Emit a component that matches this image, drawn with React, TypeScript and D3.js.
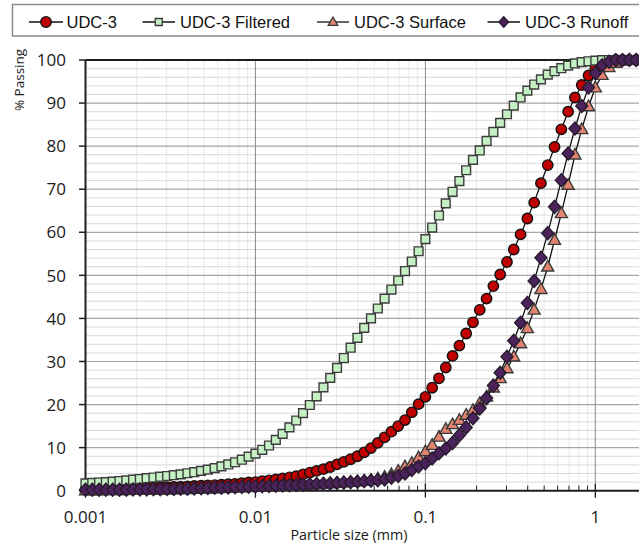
import React, { useRef, useEffect } from 'react';
import * as d3 from 'd3';

// particle size classes (mm)
const sizes = [
  0.001, 0.001096, 0.001202, 0.001318, 0.001445, 0.001585, 0.001738, 0.001905, 0.002089, 0.002291,
  0.002512, 0.002754, 0.00302, 0.003311, 0.003631, 0.003981, 0.004365, 0.004786, 0.005248, 0.005754,
  0.00631, 0.006918, 0.007586, 0.008318, 0.00912,
  0.01, 0.01096, 0.01202, 0.01318, 0.01445, 0.01585, 0.01738, 0.01905, 0.02089, 0.02291,
  0.02512, 0.02754, 0.0302, 0.03311, 0.03631, 0.03981, 0.04365, 0.04786, 0.05248, 0.05754,
  0.0631, 0.06918, 0.07586, 0.08318, 0.0912,
  0.1, 0.1096, 0.1202, 0.1318, 0.1445, 0.1585, 0.1738, 0.1905, 0.2089, 0.2291,
  0.2512, 0.2754, 0.302, 0.3311, 0.3631, 0.3981, 0.4365, 0.4786, 0.5248, 0.5754,
  0.631, 0.6918, 0.7586, 0.8318, 0.912,
  1, 1.096, 1.202, 1.318, 1.445, 1.585, 1.738, 1.905,
];

// % passing
const udc3 = [
  0.3, 0.3, 0.35, 0.4, 0.45, 0.5, 0.55, 0.6, 0.65, 0.7,
  0.75, 0.8, 0.85, 0.9, 0.95, 1.0, 1.1, 1.2, 1.25, 1.3,
  1.4, 1.5, 1.6, 1.75, 1.9, 2.0, 2.2, 2.4, 2.6, 2.85,
  3.1, 3.4, 3.8, 4.2, 4.6, 5.0, 5.5, 6.1, 6.7, 7.3,
  8.0, 8.9, 9.9, 11.1, 12.4, 13.7, 15.0, 16.4, 18.2, 20.1,
  21.8, 23.9, 26.1, 28.6, 31.3, 33.7, 36.5, 39.1, 42.0, 44.6,
  47.5, 50.2, 53.1, 56.0, 59.5, 63.2, 66.9, 71.4, 75.6, 79.8,
  83.9, 88.0, 91.3, 94.2, 96.4, 98.1, 99.2, 99.8, 100, 100,
  100, 100, 100,
];

const udc3Filtered = [
  1.7, 1.8, 1.9, 2.0, 2.1, 2.25, 2.4, 2.55, 2.7, 2.9,
  3.05, 3.25, 3.4, 3.6, 3.8, 4.05, 4.3, 4.6, 4.9, 5.25,
  5.65, 6.1, 6.6, 7.2, 7.9, 8.6, 9.5, 10.5, 11.8, 13.2,
  14.7, 16.3, 18.0, 19.9, 21.9, 24.0, 26.2, 28.5, 30.8, 33.2,
  35.5, 37.8, 40.0, 42.3, 44.6, 46.7, 48.8, 51.0, 53.2, 55.6,
  58.4, 61.1, 63.9, 66.7, 69.4, 71.9, 74.4, 76.8, 79.0, 81.2,
  83.3, 85.4, 87.4, 89.4, 91.3, 92.9, 94.3, 95.5, 96.6, 97.4,
  98.1, 98.7, 99.2, 99.5, 99.7, 99.85, 99.95, 100, 100, 100,
  100, 100, 100,
];

const udc3Surface = [
  0.05, 0.06, 0.07, 0.08, 0.09, 0.1, 0.12, 0.14, 0.16, 0.18,
  0.2, 0.23, 0.26, 0.29, 0.32, 0.36, 0.4, 0.44, 0.48, 0.52,
  0.57, 0.62, 0.67, 0.72, 0.78, 0.84, 0.9, 0.96, 1.02, 1.08,
  1.15, 1.22, 1.3, 1.38, 1.46, 1.55, 1.65, 1.76, 1.88, 2.0,
  2.15, 2.3, 2.5, 2.8, 3.2, 3.8, 4.6, 5.6, 6.4, 7.7,
  9.1, 10.6, 12.5, 14.3, 15.4, 16.4, 17.6, 18.7, 20.3, 21.8,
  23.9, 26.1, 28.4, 31.1, 34.2, 37.7, 42.0, 46.8, 52.0, 58.2,
  64.4, 71.0, 78.0, 83.9, 89.2, 93.6, 96.5, 98.3, 99.3, 99.8,
  100, 100, 100,
];

const udc3Runoff = [
  0.2, 0.2, 0.21, 0.22, 0.23, 0.24, 0.25, 0.27, 0.29, 0.31,
  0.33, 0.35, 0.38, 0.41, 0.44, 0.48, 0.52, 0.57, 0.62, 0.67,
  0.72, 0.77, 0.83, 0.89, 0.95, 1.0, 1.05, 1.1, 1.15, 1.2,
  1.27, 1.33, 1.4, 1.47, 1.54, 1.62, 1.7, 1.79, 1.88, 1.97,
  2.07, 2.18, 2.3, 2.45, 2.6, 3.0, 3.4, 4.0, 4.8, 5.6,
  6.4, 7.5, 8.7, 9.8, 11.1, 12.9, 14.7, 16.8, 19.1, 21.5,
  24.4, 27.4, 31.1, 34.8, 39.0, 43.6, 48.7, 54.1, 59.8, 65.9,
  72.1, 78.3, 84.1, 89.3, 93.6, 96.9, 98.8, 99.6, 100, 100,
  100, 100, 100,
];

const seriesNames = ['UDC-3', 'UDC-3 Filtered', 'UDC-3 Surface', 'UDC-3 Runoff'];
const xTickValues = [0.001, 0.01, 0.1, 1];
const xTickLabels = ['0.001', '0.01', '0.1', '1'];
const yTickValues = [0, 10, 20, 30, 40, 50, 60, 70, 80, 90, 100];

const W = 639;
const H = 545;

const markerPath = (shape: string, k = 1) => {
  if (shape === 'circle') {
    const r = 5.2 * k;
    return `M${r},0A${r},${r} 0 1,1 ${-r},0A${r},${r} 0 1,1 ${r},0Z`;
  }
  if (shape === 'square') {
    const s = 4.4 * k;
    return `M${-s},${-s}H${s}V${s}H${-s}Z`;
  }
  if (shape === 'triangle') {
    return `M0,${-6.3 * k}L${6 * k},${4.3 * k}L${-6 * k},${4.3 * k}Z`;
  }
  return `M0,${-6.5 * k}L${6 * k},0L0,${6.5 * k}L${-6 * k},0Z`;
};

const App = () => {
  const svgRef = useRef<SVGSVGElement>(null);

  useEffect(() => {
    const svg = d3.select(svgRef.current);
    svg.selectAll('*').remove();

    const x = d3.scaleLog().domain([0.001, 2]).range([85.5, 646.5]);
    const y = d3.scaleLinear().domain([0, 100]).range([490.7, 60]);

    const series = [
      { name: seriesNames[0], values: udc3, shape: 'circle', fill: '#c00000', stroke: '#111' },
      { name: seriesNames[1], values: udc3Filtered, shape: 'square', fill: '#c4f0c4', stroke: '#3c3c3c' },
      { name: seriesNames[2], values: udc3Surface, shape: 'triangle', fill: '#e2836f', stroke: '#3a3a3a' },
      { name: seriesNames[3], values: udc3Runoff, shape: 'diamond', fill: '#4a235a', stroke: '#2a1a30' },
    ];

    const grid = svg.append('g');
    // minor vertical gridlines
    const minorX: number[] = [];
    [0.001, 0.01, 0.1, 1].forEach((dec) => {
      for (let m = 2; m <= 9; m++) if (dec * m <= 2) minorX.push(dec * m);
    });
    grid.selectAll('.vminor').data(minorX).enter().append('line')
      .attr('x1', (d) => x(d)).attr('x2', (d) => x(d))
      .attr('y1', y(100)).attr('y2', y(0))
      .attr('stroke', '#eaeaea').attr('stroke-width', 1);

    // minor horizontal gridlines
    const minorY = d3.range(2, 100, 2).filter((d) => d % 10 !== 0);
    grid.selectAll('.hminor').data(minorY).enter().append('line')
      .attr('x1', x(0.001)).attr('x2', W)
      .attr('y1', (d) => y(d)).attr('y2', (d) => y(d))
      .attr('stroke', '#d9d9d9').attr('stroke-width', 1);

    grid.selectAll('.hmajor').data(yTickValues.slice(1, -1)).enter().append('line')
      .attr('x1', x(0.001)).attr('x2', W)
      .attr('y1', (d) => y(d)).attr('y2', (d) => y(d))
      .attr('stroke', '#a6a6a6').attr('stroke-width', 1.2);

    grid.selectAll('.vmajor').data(xTickValues.slice(1)).enter().append('line')
      .attr('x1', (d) => x(d)).attr('x2', (d) => x(d))
      .attr('y1', y(100)).attr('y2', y(0))
      .attr('stroke', '#8c8c8c').attr('stroke-width', 1);

    // axes
    const axes = svg.append('g').attr('stroke', '#1e1e1e');
    axes.append('line').attr('x1', x(0.001)).attr('x2', W).attr('y1', y(100)).attr('y2', y(100)).attr('stroke-width', 2);
    axes.append('line').attr('x1', x(0.001)).attr('x2', x(0.001)).attr('y1', y(100)).attr('y2', y(0)).attr('stroke-width', 2);
    axes.append('line').attr('x1', x(0.001) - 6).attr('x2', W).attr('y1', y(0)).attr('y2', y(0)).attr('stroke-width', 2);

    axes.selectAll('.ytick').data(yTickValues).enter().append('line')
      .attr('x1', x(0.001) - 6.5).attr('x2', x(0.001))
      .attr('y1', (d) => y(d)).attr('y2', (d) => y(d)).attr('stroke-width', 1.5);
    axes.selectAll('.xtick').data(xTickValues).enter().append('line')
      .attr('x1', (d) => x(d)).attr('x2', (d) => x(d))
      .attr('y1', y(0) - 7).attr('y2', y(0) + 7).attr('stroke-width', 1.3);
    axes.selectAll('.xminortick').data(minorX).enter().append('line')
      .attr('x1', (d) => x(d)).attr('x2', (d) => x(d))
      .attr('y1', y(0) - 5).attr('y2', y(0)).attr('stroke-width', 1);

    const labelFont = "'Open Sans', sans-serif";
    svg.selectAll('.ylabel').data(yTickValues).enter().append('text')
      .attr('x', 66).attr('y', (d) => y(d) + 6.2)
      .attr('text-anchor', 'end').attr('font-family', labelFont).attr('font-size', 17)
      .attr('fill', '#1a1a1a').text((d) => d);
    svg.selectAll('.xlabel').data(xTickValues).enter().append('text')
      .attr('x', (d) => x(d)).attr('y', 522.7)
      .attr('text-anchor', 'middle').attr('font-family', labelFont).attr('font-size', 17)
      .attr('fill', '#1a1a1a').text((d, i) => xTickLabels[i]);

    svg.append('text').attr('x', 349).attr('y', 540)
      .attr('text-anchor', 'middle').attr('font-family', labelFont).attr('font-size', 14.3)
      .attr('fill', '#1a1a1a').text('Particle size (mm)');
    svg.append('text').attr('transform', 'translate(24,80) rotate(-90)')
      .attr('text-anchor', 'middle').attr('font-family', labelFont).attr('font-size', 13.5)
      .attr('fill', '#1a1a1a').text('% Passing');

    // series
    const line = d3.line<number>().x((d, i) => x(sizes[i])).y((d) => y(d));
    series.forEach((s) => {
      const g = svg.append('g');
      g.append('path').datum(s.values).attr('d', line)
        .attr('fill', 'none').attr('stroke', '#111').attr('stroke-width', 1.3);
      g.selectAll('path.m').data(s.values).enter().append('path')
        .attr('class', 'm')
        .attr('transform', (d, i) => `translate(${x(sizes[i])},${y(d)})`)
        .attr('d', markerPath(s.shape))
        .attr('fill', s.fill).attr('stroke', s.stroke).attr('stroke-width', 1.4);
    });

    // legend
    const legend = svg.append('g');
    legend.append('rect').attr('x', 12.5).attr('y', 4.5).attr('width', 700).attr('height', 31.5)
      .attr('fill', '#fff').attr('stroke', '#8a8a8a').attr('stroke-width', 1.5);
    const legendPos = [
      { x1: 29, x2: 63, tx: 66.5 },
      { x1: 142.5, x2: 175, tx: 180 },
      { x1: 317, x2: 349, tx: 354 },
      { x1: 487.5, x2: 520, tx: 525 },
    ];
    series.forEach((s, i) => {
      const p = legendPos[i];
      legend.append('line').attr('x1', p.x1).attr('x2', p.x2).attr('y1', 22).attr('y2', 22)
        .attr('stroke', '#111').attr('stroke-width', 1.3);
      const k = s.shape === 'circle' ? 1.02 : 0.8;
      legend.append('path').attr('transform', `translate(${(p.x1 + p.x2) / 2},22)`)
        .attr('d', markerPath(s.shape, k))
        .attr('fill', s.fill).attr('stroke', s.stroke).attr('stroke-width', 1.3);
      legend.append('text').attr('x', p.tx).attr('y', 27.8)
        .attr('font-family', "'Liberation Sans', Arial, sans-serif").attr('font-size', 16.5)
        .attr('fill', '#111').text(s.name);
    });
  }, []);

  return (
    <div style={{ position: 'absolute', left: 0, top: 0 }}>
      <svg ref={svgRef} width={W} height={H} style={{ display: 'block', background: '#fff' }}></svg>
    </div>
  );
};

export default App;
